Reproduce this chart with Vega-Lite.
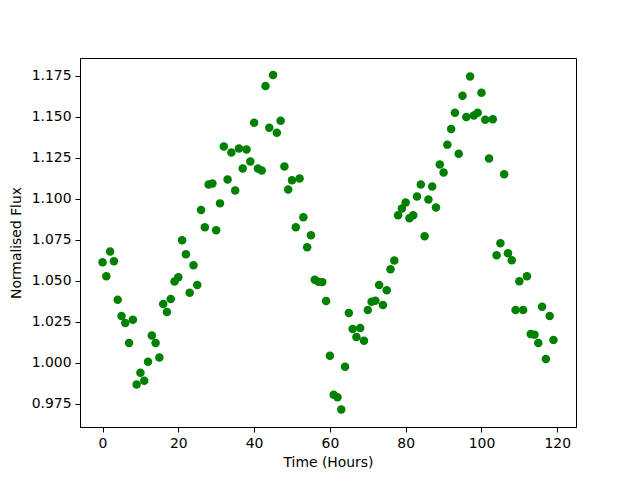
{
  "$schema": "https://vega.github.io/schema/vega-lite/v6.json",
  "autosize": "none",
  "width": 496,
  "height": 369,
  "padding": {"left": 80, "top": 58, "right": 64, "bottom": 53},
  "background": "white",
  "config": {
    "view": {"stroke": "black", "strokeWidth": 1},
    "font": "DejaVu Sans",
    "axis": {
      "labelFont": "DejaVu Sans",
      "titleFont": "DejaVu Sans",
      "labelFontSize": 13.9,
      "titleFontSize": 13.9,
      "titleFontWeight": "normal",
      "labelColor": "black",
      "titleColor": "black",
      "domainColor": "black",
      "tickColor": "black",
      "tickSize": 5,
      "labelPadding": 4,
      "grid": false
    }
  },
  "data": {
    "values": [
      {"t": 0, "f": 1.0612}, {"t": 1, "f": 1.0527}, {"t": 2, "f": 1.0677}, {"t": 3, "f": 1.0618},
      {"t": 4, "f": 1.0383}, {"t": 5, "f": 1.0284}, {"t": 6, "f": 1.0242}, {"t": 7, "f": 1.0120},
      {"t": 8, "f": 1.0262}, {"t": 9, "f": 0.9867}, {"t": 10, "f": 0.9938}, {"t": 11, "f": 0.9890},
      {"t": 12, "f": 1.0005}, {"t": 13, "f": 1.0165}, {"t": 14, "f": 1.0120}, {"t": 15, "f": 1.0031},
      {"t": 16, "f": 1.0357}, {"t": 17, "f": 1.0309}, {"t": 18, "f": 1.0388}, {"t": 19, "f": 1.0495},
      {"t": 20, "f": 1.0521}, {"t": 21, "f": 1.0746}, {"t": 22, "f": 1.0661}, {"t": 23, "f": 1.0426},
      {"t": 24, "f": 1.0594}, {"t": 25, "f": 1.0473}, {"t": 26, "f": 1.0930}, {"t": 27, "f": 1.0825},
      {"t": 28, "f": 1.1086}, {"t": 29, "f": 1.1092}, {"t": 30, "f": 1.0807}, {"t": 31, "f": 1.0971},
      {"t": 32, "f": 1.1317}, {"t": 33, "f": 1.1117}, {"t": 34, "f": 1.1281}, {"t": 35, "f": 1.1050},
      {"t": 36, "f": 1.1305}, {"t": 37, "f": 1.1183}, {"t": 38, "f": 1.1299}, {"t": 39, "f": 1.1226},
      {"t": 40, "f": 1.1463}, {"t": 41, "f": 1.1183}, {"t": 42, "f": 1.1171}, {"t": 43, "f": 1.1687},
      {"t": 44, "f": 1.1432}, {"t": 45, "f": 1.1754}, {"t": 46, "f": 1.1402}, {"t": 47, "f": 1.1475},
      {"t": 48, "f": 1.1195}, {"t": 49, "f": 1.1056}, {"t": 50, "f": 1.1112}, {"t": 51, "f": 1.0825},
      {"t": 52, "f": 1.1123}, {"t": 53, "f": 1.0886}, {"t": 54, "f": 1.0704}, {"t": 55, "f": 1.0776},
      {"t": 56, "f": 1.0505}, {"t": 57, "f": 1.0493}, {"t": 58, "f": 1.0491}, {"t": 59, "f": 1.0376},
      {"t": 60, "f": 1.0042}, {"t": 61, "f": 0.9805}, {"t": 62, "f": 0.9790}, {"t": 63, "f": 0.9715},
      {"t": 64, "f": 0.9975}, {"t": 65, "f": 1.0303}, {"t": 66, "f": 1.0205}, {"t": 67, "f": 1.0157},
      {"t": 68, "f": 1.0212}, {"t": 69, "f": 1.0133}, {"t": 70, "f": 1.0321}, {"t": 71, "f": 1.0371},
      {"t": 72, "f": 1.0377}, {"t": 73, "f": 1.0473}, {"t": 74, "f": 1.0351}, {"t": 75, "f": 1.0442},
      {"t": 76, "f": 1.0570}, {"t": 77, "f": 1.0623}, {"t": 78, "f": 1.0898}, {"t": 79, "f": 1.0940},
      {"t": 80, "f": 1.0977}, {"t": 81, "f": 1.0880}, {"t": 82, "f": 1.0898}, {"t": 83, "f": 1.1013},
      {"t": 84, "f": 1.1086}, {"t": 85, "f": 1.0770}, {"t": 86, "f": 1.0995}, {"t": 87, "f": 1.1074},
      {"t": 88, "f": 1.0946}, {"t": 89, "f": 1.1208}, {"t": 90, "f": 1.1159}, {"t": 91, "f": 1.1329},
      {"t": 92, "f": 1.1424}, {"t": 93, "f": 1.1523}, {"t": 94, "f": 1.1274}, {"t": 95, "f": 1.1627},
      {"t": 96, "f": 1.1497}, {"t": 97, "f": 1.1744}, {"t": 98, "f": 1.1507}, {"t": 99, "f": 1.1523},
      {"t": 100, "f": 1.1645}, {"t": 101, "f": 1.1481}, {"t": 102, "f": 1.1244}, {"t": 103, "f": 1.1483},
      {"t": 104, "f": 1.0655}, {"t": 105, "f": 1.0728}, {"t": 106, "f": 1.1149}, {"t": 107, "f": 1.0667},
      {"t": 108, "f": 1.0625}, {"t": 109, "f": 1.0321}, {"t": 110, "f": 1.0497}, {"t": 111, "f": 1.0321},
      {"t": 112, "f": 1.0527}, {"t": 113, "f": 1.0175}, {"t": 114, "f": 1.0171}, {"t": 115, "f": 1.0120},
      {"t": 116, "f": 1.0341}, {"t": 117, "f": 1.0023}, {"t": 118, "f": 1.0284}, {"t": 119, "f": 1.0139}
    ]
  },
  "mark": {"type": "point", "filled": true, "shape": "circle", "size": 72, "color": "#008000", "opacity": 1},
  "encoding": {
    "x": {
      "field": "t", "type": "quantitative",
      "scale": {"domain": [-5.95, 124.95], "nice": false, "zero": false},
      "axis": {"values": [0, 20, 40, 60, 80, 100, 120], "title": "Time (Hours)", "titlePadding": 6, "format": "d"}
    },
    "y": {
      "field": "f", "type": "quantitative",
      "scale": {"domain": [0.9608, 1.1857], "nice": false, "zero": false},
      "axis": {"values": [0.975, 1.0, 1.025, 1.05, 1.075, 1.1, 1.125, 1.15, 1.175], "format": ".3f", "title": "Normalised Flux", "titlePadding": 8}
    }
  }
}
